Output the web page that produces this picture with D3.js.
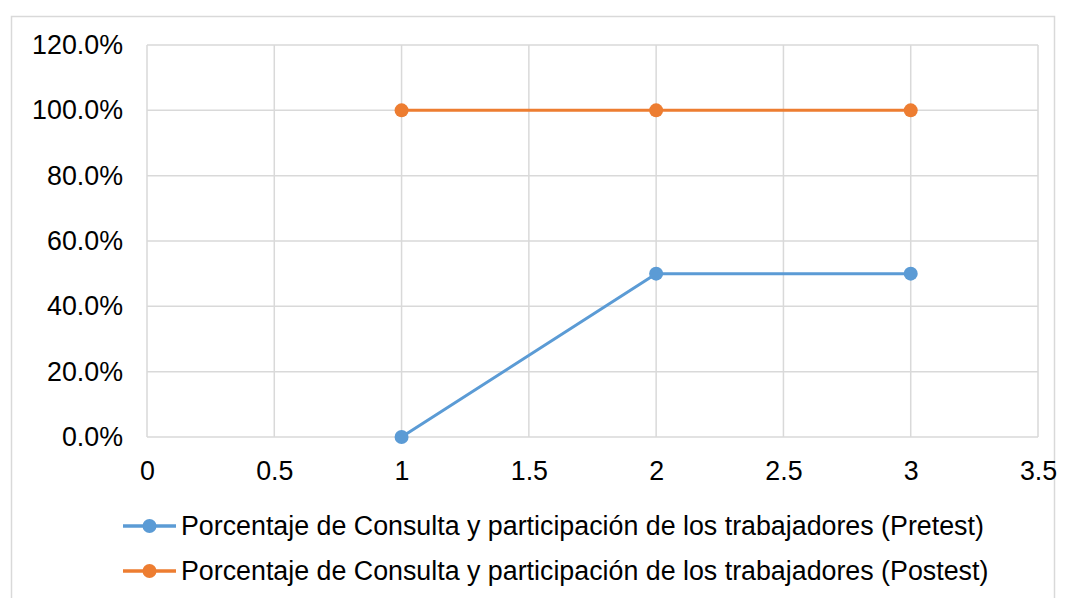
<!DOCTYPE html>
<html>
<head>
<meta charset="utf-8">
<script src="https://cdn.jsdelivr.net/npm/d3@7"></script>
<style>
  html, body { margin: 0; padding: 0; background: #fff; }
  svg { display: block; font-family: "Liberation Sans", Arial, sans-serif; }
</style>
</head>
<body>
<svg id="chart" width="1072" height="598"></svg>
<script>
// Series data
const xValues = [1, 2, 3];
const pretest = [0.0, 0.5, 0.5];
const postest = [1.0, 1.0, 1.0];
const seriesNames = [
  "Porcentaje de Consulta y participación de los trabajadores (Pretest)",
  "Porcentaje de Consulta y participación de los trabajadores (Postest)"
];
const seriesColors = ["#5B9BD5", "#ED7D31"];
const xTicks = [0, 0.5, 1, 1.5, 2, 2.5, 3, 3.5];
const yTicks = [0, 0.2, 0.4, 0.6, 0.8, 1.0, 1.2];

const FONT = 26.8;
const svg = d3.select("#chart");

// Chart frame
svg.append("rect")
  .attr("x", 11.5).attr("y", 16.5)
  .attr("width", 1043).attr("height", 600)
  .attr("fill", "#fff").attr("stroke", "#D9D9D9").attr("stroke-width", 1.5);

const plot = { left: 147, right: 1038, top: 45, bottom: 437 };

const x = d3.scaleLinear().domain([0, 3.5]).range([plot.left, plot.right]);
const y = d3.scaleLinear().domain([0, 1.2]).range([plot.bottom, plot.top]);

// Gridlines
const grid = svg.append("g").attr("stroke", "#D9D9D9").attr("stroke-width", 1.5);
grid.selectAll("line.v").data(xTicks).join("line")
  .attr("x1", d => x(d)).attr("x2", d => x(d))
  .attr("y1", plot.top).attr("y2", plot.bottom);
grid.selectAll("line.h").data(yTicks).join("line")
  .attr("x1", plot.left).attr("x2", plot.right)
  .attr("y1", d => y(d)).attr("y2", d => y(d));

// Axes (labels only, no domain/ticks)
const fmtPct = d3.format(".1%");
const yAxis = svg.append("g")
  .attr("transform", `translate(${plot.left},0)`)
  .call(d3.axisLeft(y).tickValues(yTicks).tickFormat(fmtPct).tickSize(0).tickPadding(24));
const xAxis = svg.append("g")
  .attr("transform", `translate(0,${plot.bottom})`)
  .call(d3.axisBottom(x).tickValues(xTicks).tickFormat(d => String(d)).tickSize(0).tickPadding(24));
[yAxis, xAxis].forEach(a => {
  a.attr("font-size", FONT).attr("font-family", "'Liberation Sans', Arial, sans-serif");
  a.select(".domain").remove();
  a.selectAll("text").attr("fill", "#000");
});

// Lines and markers
const line = d3.line().x((d, i) => x(xValues[i])).y(d => y(d));
[pretest, postest].forEach((vals, k) => {
  svg.append("path").datum(vals)
    .attr("d", line).attr("fill", "none")
    .attr("stroke", seriesColors[k]).attr("stroke-width", 3);
  svg.selectAll(null).data(vals).join("circle")
    .attr("cx", (d, i) => x(xValues[i])).attr("cy", d => y(d))
    .attr("r", 7).attr("fill", seriesColors[k]);
});

// Legend
const legend = svg.append("g");
seriesNames.forEach((name, k) => {
  const ly = 526 + k * 45;
  legend.append("line")
    .attr("x1", 123).attr("x2", 176).attr("y1", ly).attr("y2", ly)
    .attr("stroke", seriesColors[k]).attr("stroke-width", 3.5);
  legend.append("circle").attr("cx", 149.5).attr("cy", ly).attr("r", 7)
    .attr("fill", seriesColors[k]);
  legend.append("text")
    .attr("x", 181).attr("y", ly).attr("dy", "0.35em")
    .attr("font-size", FONT).attr("fill", "#000")
    .text(name);
});
</script>
</body>
</html>
